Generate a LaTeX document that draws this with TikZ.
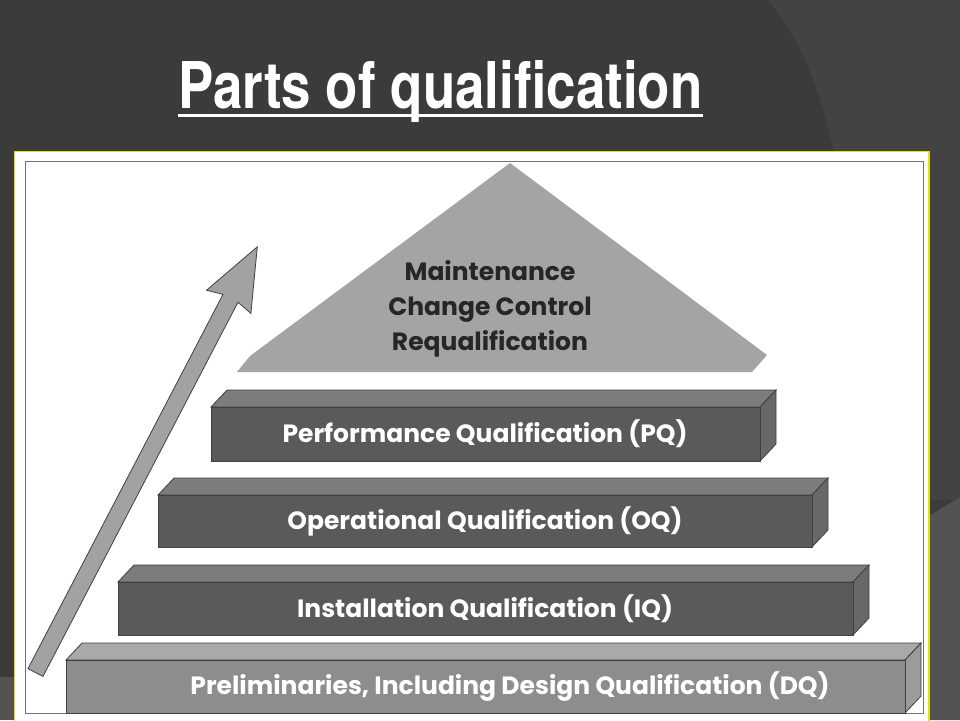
\documentclass[tikz,border=0pt]{standalone}
\usepackage{fontspec}
\usepackage{graphicx}
\newfontfamily\gothic{Poppins}
\newfontfamily\heavy{TeX Gyre Heros}

\definecolor{slidebg}{HTML}{3B3B3B}
\definecolor{framey}{HTML}{E4E400}
\definecolor{roofgray}{HTML}{A4A4A4}
\definecolor{arrowgray}{HTML}{A2A2A2}
\definecolor{darkfront}{HTML}{5A5A5A}
\definecolor{darktop}{HTML}{7C7C7C}
\definecolor{darkside}{HTML}{686868}
\definecolor{palefront}{HTML}{8D8D8D}
\definecolor{paletop}{HTML}{A9A9A9}
\definecolor{paleside}{HTML}{9B9B9B}

\begin{document}
\begin{tikzpicture}[x=1pt, y=-1pt,
    slabline/.style={draw=black!75, line width=0.8pt},
    slablabel/.style={font=\gothic\bfseries\fontsize{25}{30}\selectfont, text=white, inner sep=0pt},
    rooflabel/.style={font=\gothic\bfseries\fontsize{25}{35}\selectfont, text=black!85, align=center, inner sep=0pt}]
    \useasboundingbox (0,0) rectangle (960,720);
    % slide background
    \fill[slidebg] (0,0) rectangle (960,720);
    \fill[slidebg!96!white] (768,0) .. controls (815,60) and (845,120) .. (880,500) -- (960,500) -- (960,0) -- cycle;
    \fill[slidebg!88!white] (929,516) -- (960,497) -- (960,720) -- (929,720) -- cycle;
    \fill[slidebg!88!white] (0,677) rectangle (14,720);
    % title
    \node[anchor=base west, text=white, inner sep=0pt] (title) at (178,108)
        {\resizebox{524pt}{48pt}{\heavy\bfseries Parts of qualification}};
    \draw[white, line width=3pt] ([yshift=-7.5pt]title.base west) -- ([yshift=-7.5pt]title.base east);
    % picture frame
    \filldraw[fill=white, draw=framey, line width=1.5pt] (14.5,151.5) rectangle (929,730);
    \draw[black!55, line width=1pt] (25,161) rectangle (923,713);
    % roof
    \fill[roofgray] (237,372) -- (250,356) -- (510,163) -- (767,355) -- (752,372) -- cycle;
    \node[rooflabel] (roof) at (490,309) {Maintenance\\Change Control\\Requalification};
    % rising arrow
    \filldraw[fill=arrowgray, slabline] (43.0,676.4) -- (238.0,302.2) -- (250.9,313.4) -- (257.3,246.8)
        -- (206.5,290.2) -- (223.0,294.4) -- (28.0,668.6) -- cycle;
    % slabs: left, right, top, bottom of the front face
    \foreach \name/\l/\r/\t/\b/\lx/\tone/\txt in {
        pq/211/760/407/461/485/dark/Performance Qualification (PQ),
        oq/158/812/495/547/485/dark/Operational Qualification (OQ),
        iq/118/853/582/635/485/dark/Installation Qualification (IQ),
        dq/66/905/660/713/510/pale/{Preliminaries, Including Design Qualification (DQ)}} {
        \filldraw[fill=\tone top, slabline] (\l,\t) -- (\l+16,\t-17) -- (\r+16,\t-17) -- (\r,\t) -- cycle;
        \filldraw[fill=\tone side, slabline] (\r,\t) -- (\r+16,\t-17) -- (\r+16,\b-17) -- (\r,\b) -- cycle;
        \filldraw[fill=\tone front, slabline] (\l,\t) rectangle (\r,\b);
        \node[slablabel] (\name) at ({\lx},{(\t+\b)/2}) {\txt};
    }
\end{tikzpicture}
\end{document}
